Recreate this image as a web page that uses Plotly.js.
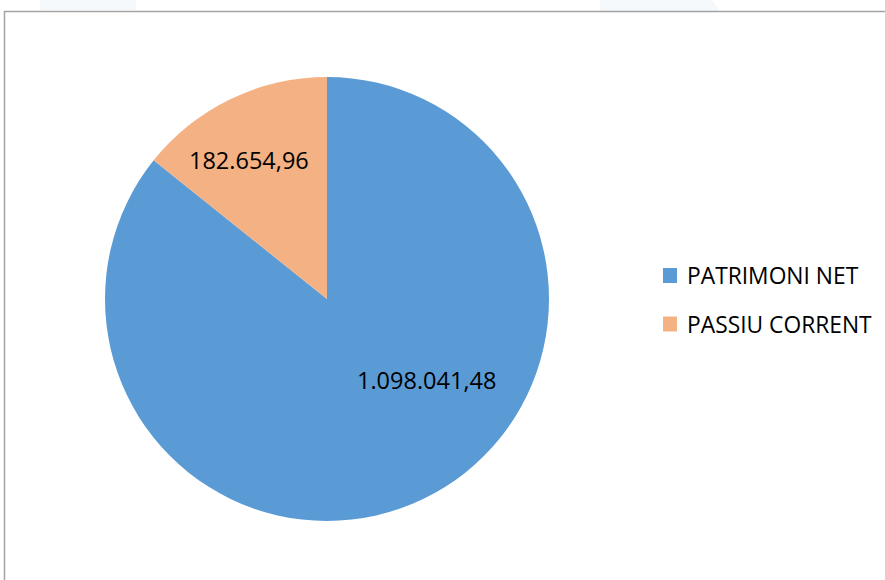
<!DOCTYPE html>
<html>
<head>
<meta charset="utf-8">
<script src="https://cdn.plot.ly/plotly-3.0.1.min.js"></script>
<style>
html,body{margin:0;padding:0;background:#fff;}
#chart{width:885px;height:580px;}
</style>
</head>
<body>
<div id="chart"></div>
<script>
const categories = ['PATRIMONI NET', 'PASSIU CORRENT'];
const values = [1098041.48, 182654.96];
const colors = ['#5B9BD5', '#F4B183'];

function fmtCat(v) {
  const parts = v.toFixed(2).split('.');
  const intPart = parts[0].replace(/\B(?=(\d{3})+(?!\d))/g, '.');
  return intPart + ',' + parts[1];
}

const W = 885, H = 580;
const px = x => x / W;
const py = y => (H - y) / H;

const FONT = '"Open Sans", "Noto Sans", sans-serif';

// label placement (paper pixels) for each slice
const labelPos = [[426, 380], [249, 160]];

const annotations = [];
const shapes = [];

// data labels
categories.forEach((c, i) => {
  annotations.push({
    xref: 'paper', yref: 'paper',
    x: px(labelPos[i][0]), y: py(labelPos[i][1]),
    xanchor: 'center', yanchor: 'middle',
    text: fmtCat(values[i]), showarrow: false,
    font: {family: FONT, size: 23.5, color: '#000'}
  });
});

// legend
categories.forEach((c, i) => {
  const cy = 275.5 + i * 48.5;
  shapes.push({
    type: 'rect', xref: 'paper', yref: 'paper',
    x0: px(663), x1: px(677), y0: py(cy - 7.5), y1: py(cy + 7.5),
    fillcolor: colors[i], line: {width: 0}
  });
  annotations.push({
    xref: 'paper', yref: 'paper',
    x: px(685), y: py(cy),
    xanchor: 'left', yanchor: 'middle',
    text: c, showarrow: false,
    font: {family: FONT, size: 22.8, color: '#000'}
  });
});

// faint background artifacts at top
shapes.push({type: 'rect', xref: 'paper', yref: 'paper', layer: 'below',
  x0: px(40), x1: px(136), y0: py(10), y1: py(0), fillcolor: '#f6f9fb', line: {width: 0}});
shapes.push({type: 'path', xref: 'paper', yref: 'paper', layer: 'below',
  path: 'M ' + px(600) + ',' + py(0) + ' L ' + px(712) + ',' + py(0) + ' L ' + px(720) + ',' + py(11) + ' L ' + px(600) + ',' + py(11) + ' Z',
  fillcolor: '#f6f9fb', line: {width: 0}});

// frame border
shapes.push({
  type: 'rect', xref: 'paper', yref: 'paper',
  x0: px(4.5), x1: px(900), y0: py(600), y1: py(11.5),
  line: {color: '#a3a3a3', width: 1.5}, fillcolor: 'rgba(0,0,0,0)'
});

const trace = {
  type: 'pie',
  labels: categories,
  values: values,
  marker: {colors: colors, line: {width: 0}},
  sort: false,
  direction: 'clockwise',
  rotation: 0,
  textinfo: 'none',
  hoverinfo: 'label+value',
  domain: {x: [px(105), px(549)], y: [py(521), py(77)]},
  showlegend: false
};

const layout = {
  width: W, height: H,
  margin: {l: 0, r: 0, t: 0, b: 0},
  paper_bgcolor: '#ffffff',
  plot_bgcolor: '#ffffff',
  showlegend: false,
  annotations: annotations,
  shapes: shapes
};

Plotly.newPlot('chart', [trace], layout, {displayModeBar: false, staticPlot: true});
</script>
</body>
</html>
